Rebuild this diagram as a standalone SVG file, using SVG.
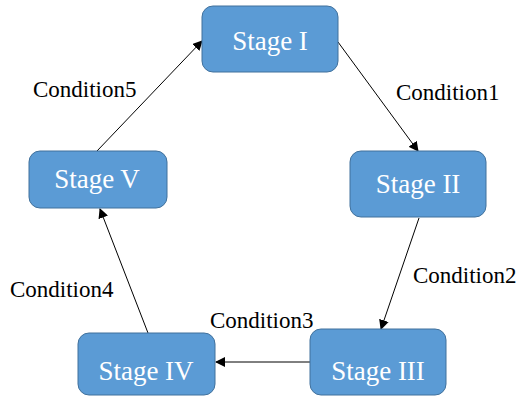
<svg xmlns="http://www.w3.org/2000/svg" width="521" height="396" viewBox="0 0 521 396">
<style>
.box{fill:#5b9bd5;stroke:#41719c;stroke-width:1}
.st{fill:#ffffff;font-size:27px;text-anchor:middle}
.cd{fill:#000000;font-size:23px}
.ln{stroke:#000;stroke-width:1;fill:none;marker-end:url(#ah)}
</style>
<defs>
<marker id="ah" viewBox="0 0 10 10" refX="9" refY="5" markerWidth="10" markerHeight="10" markerUnits="userSpaceOnUse" orient="auto">
<path d="M0,0 L10,5 L0,10 z" fill="#000"/>
</marker>
</defs>
<rect width="521" height="396" fill="#fff"/>
<g id="connectors">
<line class="ln" x1="338" y1="42" x2="418" y2="151"/>
<line class="ln" x1="419" y1="218" x2="381" y2="329"/>
<line class="ln" x1="310" y1="362" x2="216" y2="362"/>
<line class="ln" x1="148" y1="333" x2="100" y2="209"/>
<line class="ln" x1="97" y1="151" x2="202" y2="41"/>
</g>
<g font-family="'Liberation Serif', 'Times New Roman', 'DejaVu Serif', serif">
<g id="stage1"><rect class="box" x="202" y="6" width="136" height="66" rx="11"/><text class="st" x="270" y="50">Stage I</text></g>
<g id="stage2"><rect class="box" x="350" y="151" width="136" height="66" rx="11"/><text class="st" x="418" y="193">Stage II</text></g>
<g id="stage3"><rect class="box" x="310" y="329" width="136" height="66" rx="11"/><text class="st" x="378" y="380">Stage III</text></g>
<g id="stage4"><rect class="box" x="78" y="333" width="137" height="62" rx="11"/><text class="st" x="146" y="380">Stage IV</text></g>
<g id="stage5"><rect class="box" x="29" y="151" width="138" height="57" rx="11"/><text class="st" x="97" y="188">Stage V</text></g>
<g id="labels">
<text class="cd" x="396" y="100">Condition1</text>
<text class="cd" x="413" y="283">Condition2</text>
<text class="cd" x="210" y="328">Condition3</text>
<text class="cd" x="10" y="297">Condition4</text>
<text class="cd" x="33" y="97">Condition5</text>
</g>
</g>
</svg>
